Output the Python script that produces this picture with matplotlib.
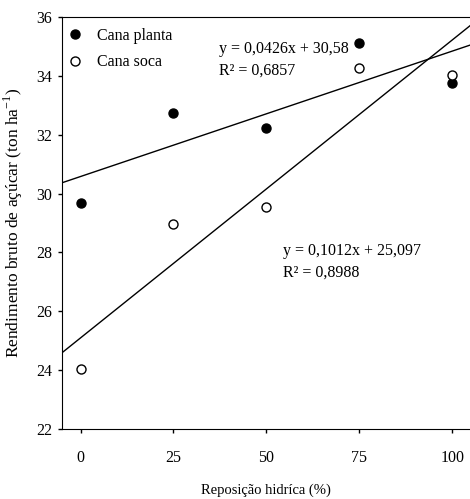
import numpy as np
import matplotlib.pyplot as plt

plt.rcParams['font.family'] = ['Liberation Serif', 'DejaVu Serif']
plt.rcParams['mathtext.fontset'] = 'custom'
plt.rcParams['mathtext.rm'] = 'Liberation Serif'

# Reposição hídrica (%)
reposicao = [0, 25, 50, 75, 100]
# Rendimento bruto de açúcar (ton/ha)
cana_planta = [29.68, 32.74, 32.23, 35.12, 33.76]
cana_soca = [24.04, 28.97, 29.54, 34.27, 34.03]

# retas ajustadas (coeficientes da figura)
coef_planta = (0.0426, 30.58)
coef_soca = (0.1012, 25.097)

xlim = (-5, 104.8)

fig = plt.figure(figsize=(4.70, 4.99), dpi=100)
ax = fig.add_axes([62 / 470, 1 - 429 / 499, 1 - 62 / 470, (429 - 17) / 499])

xx = np.array(xlim)
ax.plot(xx, coef_planta[0] * xx + coef_planta[1], color='black', lw=1)
ax.plot(xx, coef_soca[0] * xx + coef_soca[1], color='black', lw=1)

ax.plot(reposicao, cana_planta, 'o', color='black', ms=6.5, label='Cana planta')
ax.plot(reposicao, cana_soca, 'o', mfc='white', mec='black', mew=1, ms=6.5,
        label='Cana soca')

ax.set_xlim(*xlim)
ax.set_ylim(22, 36)
ax.set_xticks(reposicao)
ax.set_yticks(range(22, 37, 2))
ax.tick_params(direction='out', length=3, width=1, labelsize=11.5)
ax.tick_params(axis='y', pad=4)
ax.tick_params(axis='x', pad=12)

ax.spines['right'].set_visible(False)

ax.text(157 / 408, 1 - 24 / 412, 'y = 0,0426x + 30,58\nR² = 0,6857', transform=ax.transAxes,
        fontsize=11.5, va='top', linespacing=1.45)
ax.text(221 / 408, 1 - 226 / 412, 'y = 0,1012x + 25,097\nR² = 0,8988', transform=ax.transAxes,
        fontsize=11.5, va='top', linespacing=1.45)

ax.legend(loc='upper left', frameon=False, fontsize=11.5, handletextpad=0.9,
          borderaxespad=0.0, borderpad=0.3, labelspacing=0.65, handlelength=1.0,
          bbox_to_anchor=(0.0, 0.985))

ax.set_ylabel('Rendimento bruto de açúcar (ton ha$^{-1}$)', fontsize=12.5, labelpad=8)
fig.text(266 / 470, 1 - 490 / 499, 'Reposição hidríca (%)', fontsize=10.5,
         ha='center', va='center')

fig.savefig('out.png', dpi=100)
